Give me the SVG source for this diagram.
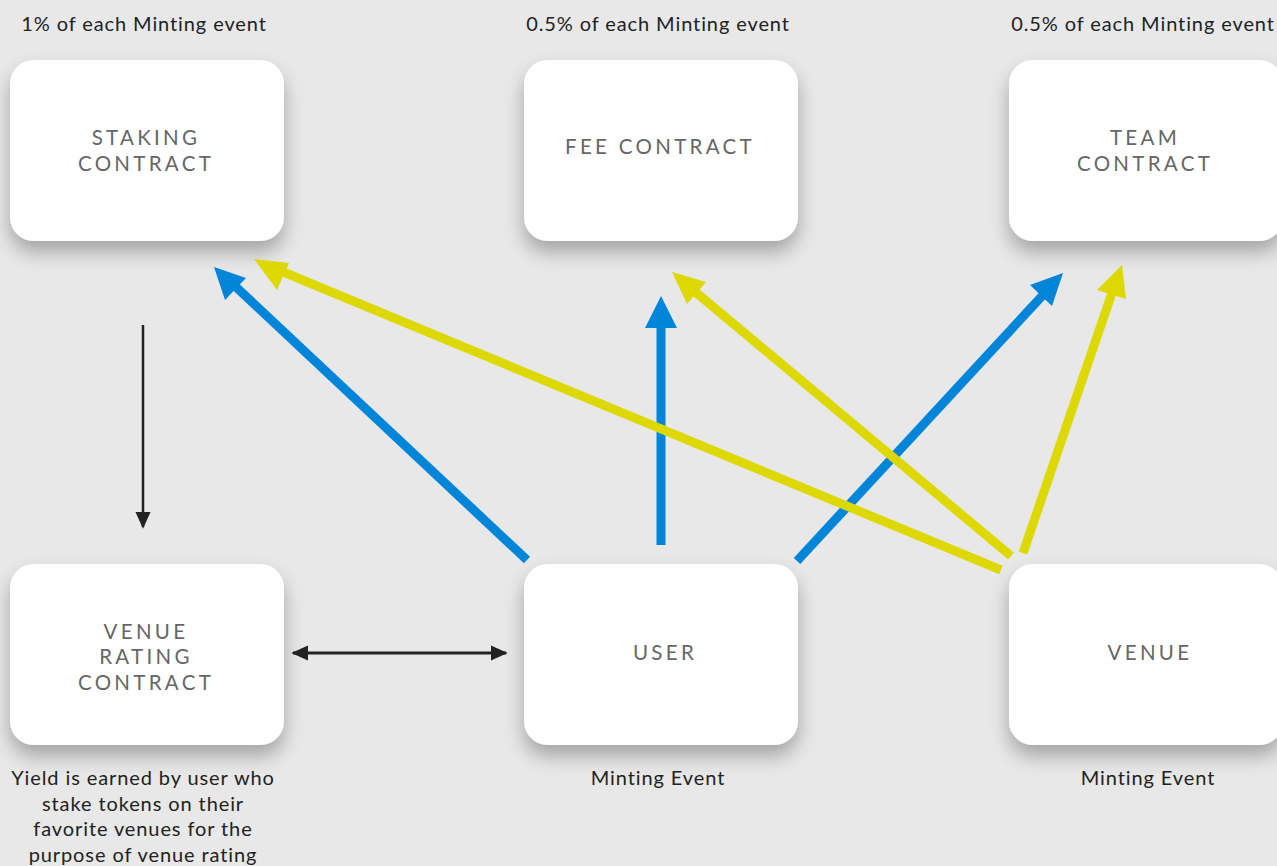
<svg xmlns="http://www.w3.org/2000/svg" width="1277" height="866" viewBox="0 0 1277 866">
  <defs>
    <filter id="shadow" x="-20%" y="-20%" width="140%" height="160%">
      <feGaussianBlur in="SourceAlpha" stdDeviation="10"/>
      <feOffset dx="0" dy="11" result="b"/>
      <feComponentTransfer><feFuncA type="linear" slope="0.3"/></feComponentTransfer>
      <feMerge><feMergeNode/><feMergeNode in="SourceGraphic"/></feMerge>
    </filter>
    <marker id="headBlack" viewBox="0 0 10 10" refX="9" refY="5" markerWidth="17" markerHeight="17" markerUnits="userSpaceOnUse" orient="auto-start-reverse">
      <path d="M0,0.5 L10,5 L0,9.5 z" fill="#222"/>
    </marker>
  </defs>
  <style>
    .box { fill: #ffffff; filter: url(#shadow); }
    .label { font-family: Lato, "Open Sans", sans-serif; font-size: 20.5px; letter-spacing: 3.3px; fill: #666; text-anchor: middle; }
    .note { font-family: Lato, "Open Sans", sans-serif; font-size: 20px; letter-spacing: 0.9px; fill: #222; text-anchor: middle; }
    .blue { stroke: #0085d9; stroke-width: 9; fill: none; }
    .yellow { stroke: #dcd800; stroke-width: 9; fill: none; }
    .blueHead { fill: #0085d9; }
    .yellowHead { fill: #dcd800; }
    .thin { stroke: #222; stroke-width: 3; fill: none; }
  </style>

  <rect width="1277" height="866" fill="#e8e8e8"/>

  <!-- notes above the contracts -->
  <text class="note" x="144" y="31">1% of each Minting event</text>
  <text class="note" x="658" y="31">0.5% of each Minting event</text>
  <text class="note" x="1143" y="31">0.5% of each Minting event</text>

  <g id="staking-contract">
    <rect class="box" x="10" y="60" width="274" height="181" rx="24"/>
    <text class="label" x="146" y="145">STAKING</text>
    <text class="label" x="146" y="171">CONTRACT</text>
  </g>
  <g id="fee-contract">
    <rect class="box" x="524" y="60" width="274" height="181" rx="24"/>
    <text class="label" x="660" y="154">FEE CONTRACT</text>
  </g>
  <g id="team-contract">
    <rect class="box" x="1009" y="60" width="274" height="181" rx="24"/>
    <text class="label" x="1145" y="145">TEAM</text>
    <text class="label" x="1145" y="171">CONTRACT</text>
  </g>
  <g id="venue-rating-contract">
    <rect class="box" x="10" y="564" width="274" height="181" rx="24"/>
    <text class="label" x="146" y="639">VENUE</text>
    <text class="label" x="146" y="664">RATING</text>
    <text class="label" x="146" y="690">CONTRACT</text>
  </g>
  <g id="user">
    <rect class="box" x="524" y="564" width="274" height="181" rx="24"/>
    <text class="label" x="665" y="660">USER</text>
  </g>
  <g id="venue">
    <rect class="box" x="1009" y="564" width="274" height="181" rx="24"/>
    <text class="label" x="1150" y="660">VENUE</text>
  </g>

  <!-- notes below the lower row -->
  <text class="note" x="658" y="785">Minting Event</text>
  <text class="note" x="1148" y="785">Minting Event</text>
  <text class="note" x="143" y="785">Yield is earned by user who</text>
  <text class="note" x="143" y="811">stake tokens on their</text>
  <text class="note" x="143" y="836">favorite venues for the</text>
  <text class="note" x="143" y="862">purpose of venue rating</text>

  <g id="connectors">
    <!-- staking to venue rating -->
    <line class="thin" x1="143" y1="325" x2="143" y2="527" marker-end="url(#headBlack)" style="stroke-width:2.5"/>
    <!-- venue rating and user, both ways -->
    <line class="thin" x1="293" y1="653" x2="506" y2="653" marker-start="url(#headBlack)" marker-end="url(#headBlack)"/>

    <!-- user to staking -->
    <line class="blue" x1="527" y1="560" x2="236" y2="287"/>
    <polygon class="blueHead" points="214,267 246,278 225,300"/>
    <!-- user to fee -->
    <line class="blue" x1="661" y1="545" x2="661" y2="320"/>
    <polygon class="blueHead" points="661,296 677,328 645,328"/>
    <!-- user to team -->
    <line class="blue" x1="797" y1="561" x2="1043" y2="295"/>
    <polygon class="blueHead" points="1063,273 1052,306 1030,285"/>

    <!-- venue to staking -->
    <line class="yellow" x1="1001" y1="570" x2="276" y2="269"/>
    <polygon class="yellowHead" points="254,259 289,263 277,290"/>
    <!-- venue to fee -->
    <line class="yellow" x1="1011" y1="556" x2="693" y2="290"/>
    <polygon class="yellowHead" points="672,272 706,282 687,304"/>
    <!-- venue to team -->
    <line class="yellow" x1="1023" y1="553" x2="1113" y2="290"/>
    <polygon class="yellowHead" points="1122,265 1126,299 1097,290"/>
  </g>
</svg>
